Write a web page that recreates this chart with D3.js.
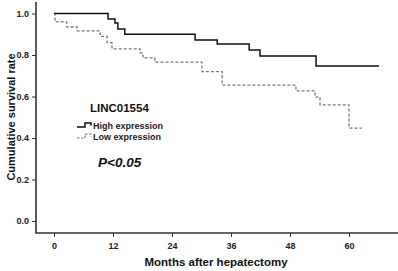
<!DOCTYPE html>
<html>
<head>
<meta charset="utf-8">
<script src="https://cdn.jsdelivr.net/npm/d3@7"></script>
<style>
  body { margin: 0; background: #fff; }
  svg { font-family: "Liberation Sans", Arial, sans-serif; }
</style>
</head>
<body>
<div id="chart"></div>
<script>
// survival steps: month of drop, value after drop
const highTimes = [0, 11.0, 12.4, 13.0, 14.4, 28.7, 33.2, 39.7, 41.9, 53.3];
const highValues = [1.0, 0.973, 0.954, 0.925, 0.90, 0.872, 0.853, 0.824, 0.795, 0.747];
const highEnd = 66.1;

const lowTimes = [0, 0.2, 2.6, 4.7, 9.4, 10.8, 11.8, 17.5, 18.1, 20.5, 30.1, 34.2, 49.2, 53.1, 54.1, 60.0];
const lowValues = [1.0, 0.96, 0.935, 0.916, 0.89, 0.86, 0.83, 0.81, 0.786, 0.766, 0.72, 0.655, 0.627, 0.597, 0.56, 0.448];
const lowEnd = 62.6;

const xTicks = [0, 12, 24, 36, 48, 60];
const yTicks = [0.0, 0.2, 0.4, 0.6, 0.8, 1.0];

const W = 398, H = 271;
const svg = d3.select("#chart").append("svg")
    .attr("width", W)
    .attr("height", H);

const x = d3.scaleLinear().domain([0, 60]).range([54, 349]);
const y = d3.scaleLinear().domain([0, 1]).range([221, 13.5]);

const axisColor = "#333";

// y axis
const yAxis = svg.append("g")
    .attr("transform", "translate(36,0)")
    .call(d3.axisLeft(y).tickValues(yTicks).tickFormat(d3.format(".1f")).tickSize(4).tickSizeOuter(0));
yAxis.select(".domain").remove();
svg.append("line")
    .attr("x1", 36).attr("x2", 36).attr("y1", 2).attr("y2", 233)
    .style("stroke", axisColor).style("stroke-width", 1.6);

// x axis
const xAxis = svg.append("g")
    .attr("transform", "translate(0,233)")
    .call(d3.axisBottom(x).tickValues(xTicks).tickSize(4).tickSizeOuter(0));
xAxis.select(".domain").remove();
svg.append("line")
    .attr("x1", 35.2).attr("x2", 398).attr("y1", 233).attr("y2", 233)
    .style("stroke", axisColor).style("stroke-width", 1.6);

svg.selectAll(".tick line").style("stroke", axisColor).style("stroke-width", 1);
svg.selectAll(".tick text")
    .style("font-size", "9px")
    .style("font-weight", "bold")
    .style("fill", "#222");
xAxis.selectAll(".tick text").attr("dy", "0.95em");

// axis titles
svg.append("text")
    .attr("x", 216).attr("y", 266)
    .style("text-anchor", "middle")
    .style("font-size", "11.5px")
    .style("font-weight", "bold")
    .style("fill", "#111")
    .text("Months after hepatectomy");

svg.append("text")
    .attr("transform", "translate(11,117) rotate(-90)")
    .attr("dy", "0.35em")
    .style("text-anchor", "middle")
    .style("font-size", "11px")
    .style("font-weight", "bold")
    .style("fill", "#111")
    .text("Cumulative survival rate");

// step curves
function stepPoints(times, values, end) {
    let pts = times.map((t, i) => [t, values[i]]);
    pts.push([end, values[values.length - 1]]);
    return pts;
}
const line = d3.line()
    .x(d => x(d[0]))
    .y(d => y(d[1]))
    .curve(d3.curveStepAfter);

svg.append("path")
    .datum(stepPoints(lowTimes, lowValues, lowEnd))
    .attr("d", line)
    .style("fill", "none")
    .style("stroke", "#777")
    .style("stroke-width", 1.3)
    .style("stroke-dasharray", "3,2");

svg.append("path")
    .datum(stepPoints(highTimes, highValues, highEnd))
    .attr("d", line)
    .style("fill", "none")
    .style("stroke", "#111")
    .style("stroke-width", 1.5);

// legend
svg.append("text")
    .attr("x", 90).attr("y", 112)
    .style("font-size", "11.5px")
    .style("font-weight", "bold")
    .style("fill", "#111")
    .text("LINC01554");

svg.append("path")
    .attr("d", "M77,127 H85 V123 H91 V125.5")
    .style("fill", "none").style("stroke", "#111").style("stroke-width", 1.5);
svg.append("text")
    .attr("x", 93).attr("y", 128.5)
    .style("font-size", "9px")
    .style("font-weight", "bold")
    .style("fill", "#222")
    .text("High expression");

svg.append("path")
    .attr("d", "M77,138 H85 V134 H91 V136.5")
    .style("fill", "none").style("stroke", "#777").style("stroke-width", 1.2)
    .style("stroke-dasharray", "2.5,1.5");
svg.append("text")
    .attr("x", 93).attr("y", 139.5)
    .style("font-size", "9px")
    .style("font-weight", "bold")
    .style("fill", "#222")
    .text("Low expression");

svg.append("text")
    .attr("x", 98).attr("y", 167)
    .style("font-size", "13.5px")
    .style("font-weight", "bold")
    .style("font-style", "italic")
    .style("fill", "#111")
    .text("P<0.05");
</script>
</body>
</html>
